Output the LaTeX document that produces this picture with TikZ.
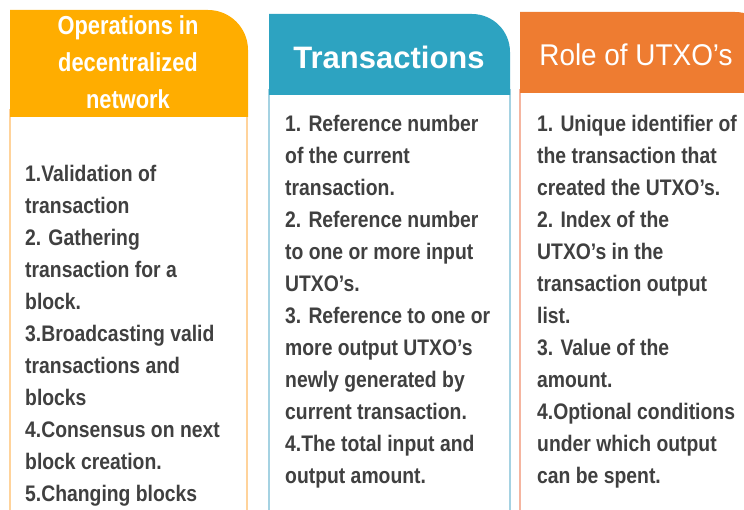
\documentclass[tikz,border=0pt]{standalone}
\usepackage{fontspec}
\setmainfont{Liberation Sans}
\newfontfamily\bodyfont[FakeStretch=0.86]{Liberation Sans}
\newfontfamily\headnarrow[FakeStretch=0.84]{Liberation Sans}
\newfontfamily\headplain[FakeStretch=0.93]{Liberation Sans}
\definecolor{hdrA}{HTML}{FFAD00}
\definecolor{hdrB}{HTML}{2DA3C1}
\definecolor{hdrC}{HTML}{EE7C31}
\definecolor{lineA}{HTML}{FFD39B}
\definecolor{lineB}{HTML}{A5D2E2}
\definecolor{lineC}{HTML}{F5B5A0}
\definecolor{txt}{HTML}{404040}
\begin{document}
\begin{tikzpicture}[x=1pt,y=-1pt,
  bodytext/.style={anchor=north west, inner sep=0pt, align=left, text=txt,
    font=\bodyfont\bfseries\fontsize{22.5}{32}\selectfont},
  bodybox/.style={line width=1.3pt, fill=white}]
\useasboundingbox (0,0) rectangle (744,510);
\clip (0,0) rectangle (744,510);
% column 1
\draw[bodybox, draw=lineA] (10,110) rectangle (247,530);
\fill[hdrA] (10,117) -- (10,10) -- (208,10) arc[start angle=-90, end angle=0, radius=40] -- (248,117) -- cycle;
\node[text=white, align=center, inner sep=0pt, font=\headnarrow\bfseries\fontsize{26}{37}\selectfont] (h1) at (128,62) {Operations in\\decentralized\\network};
\node[bodytext] (b1) at (25,165) {1.Validation of\\transaction\\2. Gathering\\transaction for a\\block.\\3.Broadcasting valid\\transactions and\\blocks\\4.Consensus on next\\block creation.\\5.Changing blocks};
% column 2
\draw[bodybox, draw=lineB] (269,90) rectangle (510,530);
\fill[hdrB] (269,95) -- (269,14) -- (472,14) arc[start angle=-90, end angle=0, radius=38] -- (510,95) -- cycle;
\node[text=white, inner sep=0pt, font=\bfseries\fontsize{31}{37}\selectfont] (h2) at (389,57) {Transactions};
\node[bodytext] (b2) at (285,115) {1. Reference number\\of the current\\transaction.\\2. Reference number\\to one or more input\\UTXO’s.\\3. Reference to one or\\more output UTXO’s\\newly generated by\\current transaction.\\4.The total input and\\output amount.};
% column 3
\draw[bodybox, draw=lineC] (520,90) rectangle (790,530);
\fill[hdrC] (520,93) -- (520,12) -- (735,12) arc[start angle=-90, end angle=0, radius=38] -- (773,93) -- cycle;
\node[text=white, inner sep=0pt, font=\headplain\fontsize{30}{37}\selectfont] (h3) at (636,55) {Role of UTXO’s};
\node[bodytext] (b3) at (537,115) {1. Unique identifier of\\the transaction that\\created the UTXO’s.\\2. Index of the\\UTXO’s in the\\transaction output\\list.\\3. Value of the\\amount.\\4.Optional conditions\\under which output\\can be spent.};
\end{tikzpicture}
\end{document}
